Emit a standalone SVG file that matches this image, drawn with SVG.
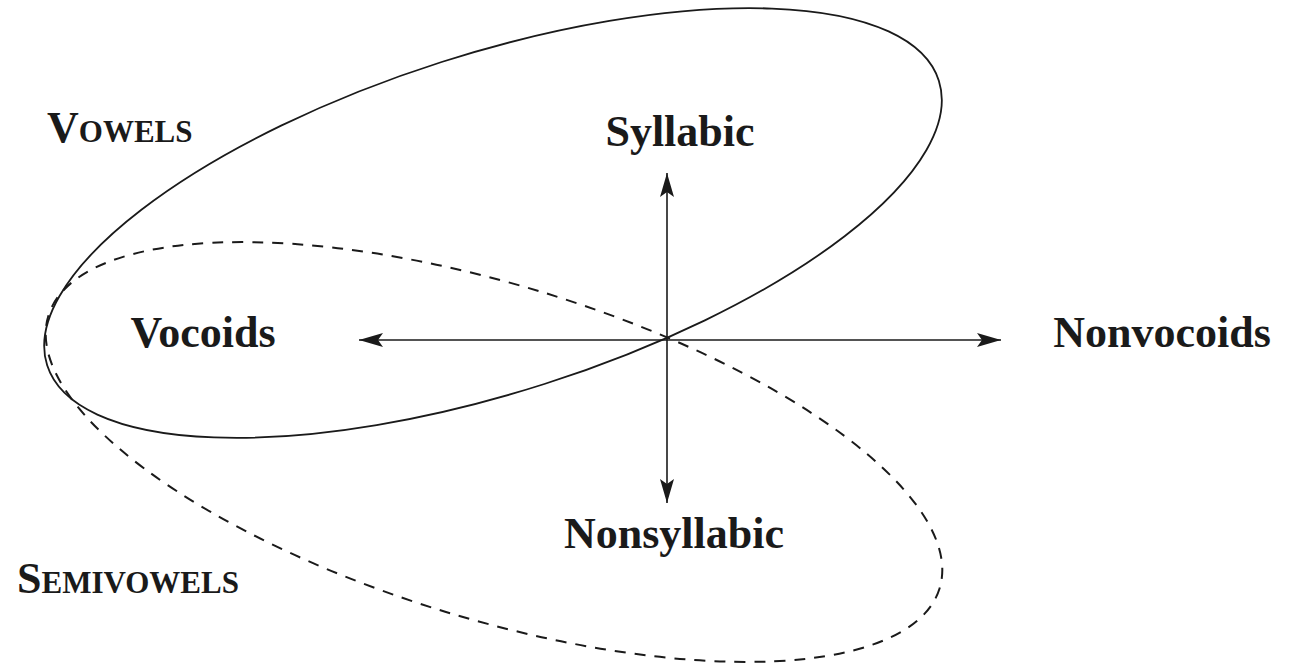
<svg xmlns="http://www.w3.org/2000/svg" width="1290" height="667" viewBox="0 0 1290 667">
  <style>
    .lbl { font-family: "Liberation Serif", "Times New Roman", serif; font-weight: bold; font-size: 44px; fill: #1a1a1a; }
    .sc { font-size: 31px; }
    .axis { stroke: #1a1a1a; stroke-width: 1.6; fill: none; }
    .solid { stroke: #1a1a1a; stroke-width: 1.8; fill: none; }
    .dashed { stroke: #1a1a1a; stroke-width: 2; fill: none; stroke-dasharray: 11 9; }
  </style>
  <defs>
    <marker id="arrow" markerUnits="userSpaceOnUse" markerWidth="26" markerHeight="16" refX="24" refY="8" orient="auto">
      <path d="M0,1 L24,8 L0,15 L5,8 z" fill="#1a1a1a"/>
    </marker>
  </defs>
  <rect width="1290" height="667" fill="#ffffff"/>

  <g id="vowels-set">
    <ellipse class="solid" cx="493" cy="223" rx="468" ry="169" transform="rotate(-17.7 493 223)"/>
  </g>
  <g id="semivowels-set">
    <ellipse class="dashed" cx="494" cy="452" rx="466" ry="167" transform="rotate(17 494 452)"/>
  </g>

  <g id="connectors">
    <line class="axis" x1="667" y1="340" x2="667" y2="173" marker-end="url(#arrow)"/>
    <line class="axis" x1="667" y1="340" x2="667" y2="503" marker-end="url(#arrow)"/>
    <line class="axis" x1="667" y1="340" x2="359" y2="340" marker-end="url(#arrow)"/>
    <line class="axis" x1="667" y1="340" x2="1001" y2="340" marker-end="url(#arrow)"/>
  </g>

  <g id="syllabic"><text class="lbl" x="680" y="146" text-anchor="middle">Syllabic</text></g>
  <g id="nonsyllabic"><text class="lbl" x="674" y="548" text-anchor="middle">Nonsyllabic</text></g>
  <g id="vocoids"><text class="lbl" x="203" y="347" text-anchor="middle">Vocoids</text></g>
  <g id="nonvocoids"><text class="lbl" x="1162" y="347" text-anchor="middle">Nonvocoids</text></g>
  <g id="vowels"><text class="lbl" x="47" y="142">V<tspan class="sc">OWELS</tspan></text></g>
  <g id="semivowels"><text class="lbl" x="17" y="593">S<tspan class="sc">EMIVOWELS</tspan></text></g>
</svg>
